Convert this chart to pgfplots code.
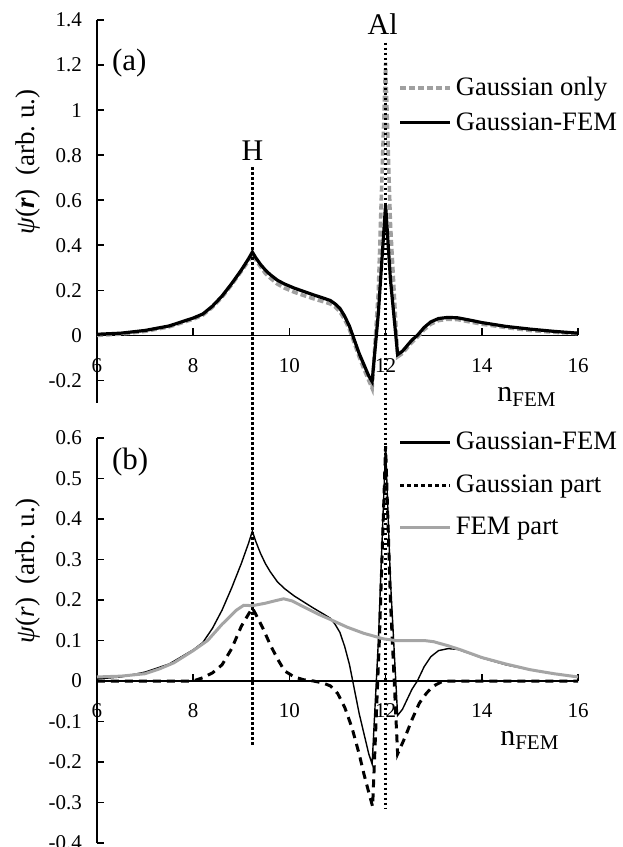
\documentclass[border=0pt]{standalone}
\usepackage{pgfplots}
\pgfplotsset{compat=1.18}
\usepackage{fontspec}
\setmainfont{Liberation Serif}
\definecolor{lgray}{RGB}{160,160,160}
\definecolor{fgray}{RGB}{165,165,165}

\pgfplotstableread{
n y
6.0 0.005
6.5 0.01
7.0 0.022
7.5 0.042
8.0 0.077
8.2 0.095
8.4 0.13
8.6 0.175
8.8 0.23
9.0 0.29
9.15 0.34
9.23 0.37
9.3 0.345
9.4 0.315
9.5 0.29
9.6 0.27
9.75 0.245
9.9 0.228
10.1 0.21
10.3 0.195
10.5 0.18
10.7 0.166
10.85 0.155
10.95 0.14
11.05 0.12
11.15 0.085
11.25 0.04
11.35 -0.02
11.45 -0.08
11.55 -0.13
11.65 -0.18
11.72 -0.205
11.85 0.1
12.0 0.58
12.1 0.25
12.25 -0.085
12.35 -0.07
12.45 -0.045
12.55 -0.02
12.66 0.0
12.8 0.035
12.94 0.06
13.1 0.075
13.3 0.08
13.5 0.078
13.75 0.068
14.0 0.057
14.5 0.04
15.0 0.028
15.5 0.018
16.0 0.01
}\gfem

\pgfplotstableread{
n y
6.0 0.0
6.5 0.006
7.0 0.018
7.5 0.038
8.0 0.072
8.2 0.09
8.4 0.125
8.6 0.17
8.8 0.225
9.0 0.285
9.15 0.33
9.23 0.36
9.3 0.335
9.4 0.305
9.5 0.275
9.6 0.255
9.75 0.228
9.9 0.21
10.1 0.192
10.3 0.177
10.5 0.163
10.7 0.15
10.85 0.14
10.95 0.127
11.05 0.105
11.15 0.07
11.25 0.025
11.35 -0.035
11.45 -0.095
11.55 -0.15
11.65 -0.2
11.72 -0.235
11.85 0.2
12.0 1.21
12.1 0.5
12.25 -0.095
12.35 -0.08
12.45 -0.055
12.55 -0.03
12.66 -0.008
12.8 0.025
12.94 0.05
13.1 0.066
13.3 0.072
13.5 0.07
13.75 0.06
14.0 0.05
14.5 0.035
15.0 0.022
15.5 0.014
16.0 0.008
}\gonly

\pgfplotstableread{
n y
6.0 0
8.0 0
8.2 0.008
8.4 0.02
8.6 0.04
8.8 0.08
9.0 0.135
9.15 0.165
9.23 0.18
9.3 0.165
9.45 0.13
9.6 0.09
9.75 0.055
9.9 0.025
10.1 0.01
10.3 0.003
10.5 0.0
10.7 -0.005
10.85 -0.012
11.0 -0.03
11.15 -0.065
11.3 -0.115
11.45 -0.18
11.55 -0.23
11.65 -0.275
11.73 -0.31
11.87 0.1
12.0 0.58
12.1 0.2
12.25 -0.18
12.4 -0.14
12.55 -0.095
12.7 -0.055
12.85 -0.03
13.0 -0.012
13.2 0.0
16.0 0.0
}\gpart

\pgfplotstableread{
n y
6.0 0.01
6.5 0.012
7.0 0.018
7.3 0.03
7.6 0.045
8.0 0.075
8.3 0.1
8.6 0.14
8.9 0.175
9.05 0.187
9.23 0.186
9.5 0.192
9.7 0.198
9.88 0.203
10.05 0.198
10.3 0.183
10.6 0.165
10.85 0.152
11.2 0.133
11.54 0.118
11.96 0.104
12.2 0.1
12.8 0.1
13.0 0.097
13.3 0.087
13.56 0.077
14.0 0.058
14.5 0.042
15.0 0.028
15.5 0.018
16.0 0.01
}\fpart

\pgfplotsset{
  common/.style={
    scale only axis,
    width=240.5pt,
    xmin=6, xmax=16,
    axis x line*=middle,
    axis y line*=left,
    xtick={6,8,10,12,14,16},
    hide obscured x ticks=false,
    tick align=inside,
    major tick length=3.5pt,
    tick style={black, line width=0.8pt},
    x axis line style={line width=0.7pt},
    y axis line style={line width=1.1pt},
    /pgf/number format/assume math mode=true,
    ticklabel style={font=\fontsize{10.5}{12}\selectfont},
    xticklabel style={anchor=center, yshift=-15pt},
    yticklabel style={anchor=east, xshift=-4pt},
    clip=false,
    legend cell align=left,
    legend image code/.code={\draw[##1] (0pt,0pt) -- (25pt,0pt);},
  },
  dotv/.style={black, line width=1.5pt, dash pattern=on 1.2pt off 1.3pt, forget plot},
}

\begin{document}
\begin{tikzpicture}
\useasboundingbox (0,0) rectangle (311pt,423.5pt);

% ---------- panel (a) ----------
\begin{axis}[common,
  at={(48.5pt,222pt)}, anchor=south west,
  height=191.5pt,
  ymin=-0.3, ymax=1.4,
  ytick={-0.2,0,0.2,0.4,0.6,0.8,1,1.2,1.4},
  legend style={draw=none, fill=none, at={(axis description cs:0.613,0.873)}, anchor=north west,
    font=\fontsize{13.3}{15}\selectfont, row sep=3pt},
]
\addplot[lgray, line width=1.8pt, dash pattern=on 3pt off 1.5pt] table[x=n,y=y] {\gonly};
\addlegendentry{Gaussian only}
\addplot[black, line width=1.6pt] table[x=n,y=y] {\gfem};
\addlegendentry{Gaussian-FEM}
\addplot[dotv] coordinates {(9.23,0.747) (9.23,-1.82)};
\addplot[dotv] coordinates {(12.0,1.30) (12.0,-2.10)};
\node[font=\fontsize{15.5}{17}\selectfont] at (axis cs:6.67,1.21) {(a)};
\node[font=\fontsize{15}{17}\selectfont] at (axis cs:9.23,0.82) {H};
\node[font=\fontsize{15}{17}\selectfont] at (axis cs:11.94,1.38) {Al};
\node[font=\fontsize{15}{17}\selectfont] at (axis description cs:0.894,0.016) {n\textsubscript{FEM}};
\node[rotate=90, font=\fontsize{13.5}{15}\selectfont] at (axis description cs:-0.143,0.629) {\textit{ψ}(\textbf{\textit{r}})\ \ (arb.\ u.)};
\end{axis}

% ---------- panel (b) ----------
\begin{axis}[common,
  at={(48.5pt,2pt)}, anchor=south west,
  height=202.5pt,
  ymin=-0.4, ymax=0.6,
  ytick={-0.4,-0.3,-0.2,-0.1,0,0.1,0.2,0.3,0.4,0.5,0.6},
  legend style={draw=none, fill=none, at={(axis description cs:0.613,1.035)}, anchor=north west,
    font=\fontsize{13.3}{15}\selectfont, row sep=7pt},
]
\addplot[black, line width=0.7pt, legend image post style={line width=1.8pt}] table[x=n,y=y] {\gfem};
\addlegendentry{Gaussian-FEM}
\addplot[black, line width=1.5pt, dash pattern=on 4pt off 3pt, legend image post style={dash pattern=on 2pt off 1.5pt}] table[x=n,y=y] {\gpart};
\addlegendentry{Gaussian part}
\addplot[fgray, line width=1.5pt] table[x=n,y=y] {\fpart};
\addlegendentry{FEM part}
\node[font=\fontsize{15.5}{17}\selectfont] at (axis cs:6.69,0.54) {(b)};
\node[font=\fontsize{15}{17}\selectfont] at (axis description cs:0.90,0.254) {n\textsubscript{FEM}};
\node[rotate=90, font=\fontsize{13.5}{15}\selectfont] at (axis description cs:-0.143,0.672) {\textit{ψ}(\textit{r})\ \ (arb.\ u.)};
\end{axis}
\end{tikzpicture}
\end{document}
